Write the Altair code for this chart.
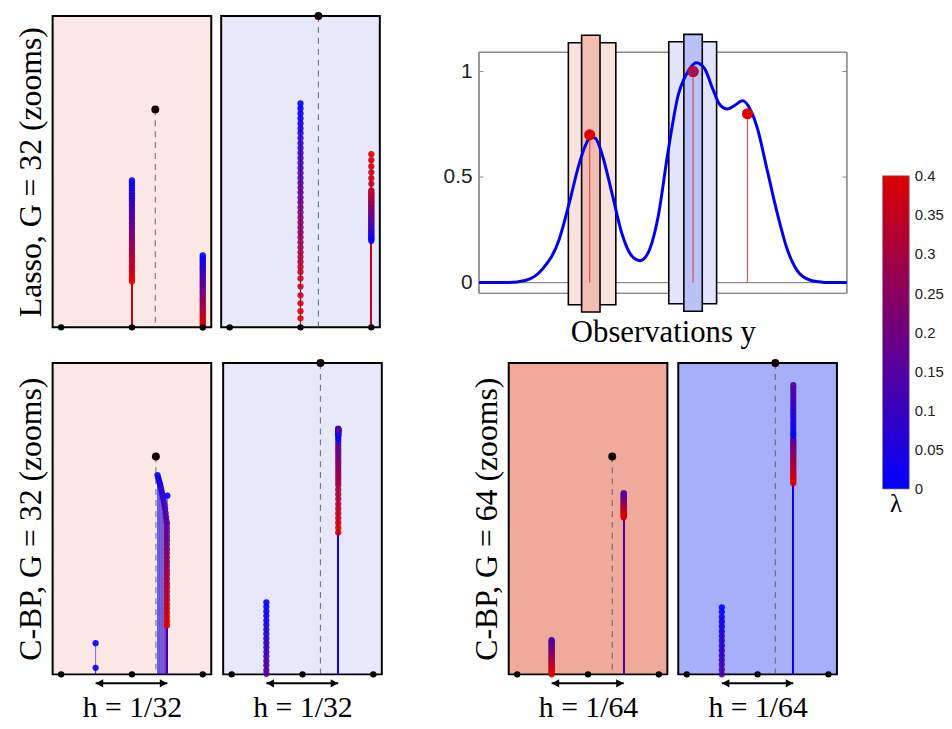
import altair as alt
import pandas as pd

SERIF = "Liberation Serif"
SANS = "Liberation Sans"

# ---------------- data ----------------
LAM = [0.00, 0.01, 0.02, 0.03, 0.04, 0.05, 0.06, 0.07, 0.08, 0.09,
       0.10, 0.11, 0.12, 0.13, 0.14, 0.15, 0.16, 0.17, 0.18, 0.19,
       0.20, 0.21, 0.22, 0.23, 0.24, 0.25, 0.26, 0.27, 0.28, 0.29,
       0.30, 0.31, 0.32, 0.33, 0.34, 0.35, 0.36, 0.37, 0.38, 0.39, 0.40]
COLORBAR_TICKS = [0, 0.05, 0.1, 0.15, 0.2, 0.25, 0.3, 0.35, 0.4]
GRID_NODES = [0, 1, 2]

# Lasso, G = 32 (pink zoom): amplitudes at grid nodes 1 and 2
LP_A1 = [0.472, 0.464, 0.456, 0.448, 0.440, 0.431, 0.423, 0.415, 0.407, 0.399,
         0.391, 0.383, 0.375, 0.366, 0.358, 0.350, 0.342, 0.334, 0.326, 0.318,
         0.310, 0.301, 0.293, 0.285, 0.277, 0.269, 0.261, 0.253, 0.245, 0.236,
         0.228, 0.220, 0.212, 0.204, 0.196, 0.188, 0.180, 0.171, 0.163, 0.155, 0.147]
LP_A2 = [0.231, 0.225, 0.219, 0.214, 0.208, 0.202, 0.196, 0.190, 0.185, 0.179,
         0.173, 0.167, 0.162, 0.156, 0.150, 0.144, 0.139, 0.133, 0.127, 0.121,
         0.116, 0.110, 0.104, 0.098, 0.092, 0.087, 0.081, 0.075, 0.069, 0.064,
         0.058, 0.052, 0.046, 0.040, 0.035, 0.029, 0.023, 0.017, 0.012, 0.006, 0.000]
# Lasso, G = 32 (blue zoom)
LB_A1 = [0.719, 0.703, 0.687, 0.671, 0.655, 0.639, 0.624, 0.608, 0.592, 0.576,
         0.560, 0.544, 0.528, 0.512, 0.496, 0.480, 0.464, 0.448, 0.433, 0.417,
         0.401, 0.385, 0.369, 0.353, 0.337, 0.321, 0.305, 0.289, 0.273, 0.257,
         0.241, 0.226, 0.210, 0.194, 0.178, 0.157, 0.131, 0.103, 0.077, 0.052, 0.029]
LB_A2 = [0.278, 0.283, 0.288, 0.292, 0.297, 0.302, 0.307, 0.311, 0.316, 0.321,
         0.326, 0.330, 0.335, 0.340, 0.345, 0.349, 0.354, 0.359, 0.364, 0.368,
         0.373, 0.378, 0.383, 0.387, 0.392, 0.397, 0.402, 0.406, 0.411, 0.416,
         0.421, 0.426, 0.430, 0.435, 0.440, 0.461, 0.479, 0.498, 0.517, 0.537, 0.556]

# C-BP, G = 32 (pink zoom)
CP_SMALL_X = 0.487
CP_SMALL_A = [0.100, 0.021]
CP_MAIN_X = [1.500, 1.361, 1.370, 1.380, 1.390, 1.400, 1.410, 1.420, 1.430, 1.440,
             1.450, 1.460, 1.468, 1.476, 1.482, 1.487]
CP_MAIN_A = [0.574, 0.640, 0.632, 0.624, 0.616, 0.608, 0.598, 0.588, 0.577, 0.566,
             0.555, 0.543, 0.531, 0.518, 0.505, 0.493]
CP_VERT_X = 1.494
CP_VERT_A = [0.484, 0.470, 0.457, 0.443, 0.430, 0.416, 0.402, 0.389, 0.375, 0.361,
             0.348, 0.334, 0.321, 0.307, 0.293, 0.280, 0.266, 0.252, 0.239, 0.225,
             0.212, 0.198, 0.184, 0.171, 0.157]
# C-BP, G = 32 (blue zoom)
CB_X1 = 0.490
CB_A1 = [0.231, 0.217, 0.202, 0.188, 0.173, 0.159, 0.144, 0.130, 0.115, 0.101,
         0.087, 0.072, 0.058, 0.043, 0.029, 0.014, 0.002]
CB_X2 = 1.505
CB_A2 = [0.755, 0.764, 0.768, 0.771, 0.774, 0.776, 0.778, 0.780, 0.782, 0.783,
         0.784, 0.785, 0.786, 0.787, 0.788, 0.789,
         0.745, 0.735, 0.725, 0.716, 0.706, 0.696, 0.686, 0.677, 0.667, 0.657,
         0.647, 0.637, 0.628, 0.618, 0.608, 0.593, 0.578, 0.563, 0.547, 0.532,
         0.517, 0.502, 0.487, 0.471, 0.456]
# C-BP, G = 64 (pink zoom), lambda from 0.12 upward
GP_X1 = 0.486
GP_A1 = [0.110, 0.106, 0.102, 0.098, 0.094, 0.090, 0.086, 0.083, 0.079, 0.075,
         0.071, 0.067, 0.063, 0.059, 0.055, 0.051, 0.047, 0.043, 0.039, 0.035,
         0.031, 0.028, 0.024, 0.020, 0.016, 0.012, 0.008, 0.004, 0.000]
GP_X2 = 1.504
GP_A2 = [0.582, 0.579, 0.576, 0.574, 0.571, 0.568, 0.565, 0.562, 0.560, 0.557,
         0.554, 0.551, 0.549, 0.546, 0.543, 0.540, 0.537, 0.535, 0.532, 0.529,
         0.526, 0.524, 0.521, 0.518, 0.515, 0.512, 0.510, 0.507, 0.504]
# C-BP, G = 64 (blue zoom)
GB_X1 = 0.495
GB_A1 = [0.215, 0.200, 0.184, 0.169, 0.154, 0.138, 0.123, 0.108, 0.092, 0.077,
         0.061, 0.046, 0.031, 0.015, 0.000]
GB_X2 = 1.504
GB_A2 = [0.766, 0.775, 0.786, 0.797, 0.808, 0.820, 0.831, 0.842, 0.853, 0.864,
         0.875, 0.886, 0.897, 0.908, 0.919, 0.929,
         0.755, 0.749, 0.743, 0.737, 0.731, 0.726, 0.720, 0.714, 0.708, 0.702,
         0.696, 0.690, 0.684, 0.678, 0.673, 0.667, 0.661, 0.655, 0.649, 0.643,
         0.637, 0.631, 0.626, 0.620, 0.614]

PANEL_IDS = ["lasso_pink", "lasso_blue", "cbp32_pink", "cbp32_blue", "cbp64_pink", "cbp64_blue"]
TRUE_X = [1.330, 1.253, 1.338, 1.254, 1.342, 1.250]
TRUE_AMP = [0.70, 1.00, 0.70, 1.00, 0.70, 1.00]
ARROW_FROM = [None, None, 0.487, 0.490, 0.486, 0.495]
ARROW_TO = [None, None, 1.500, 1.505, 1.504, 1.504]

# Observation signal
CURVE_X = [0.000, 0.080, 0.128, 0.173, 0.218, 0.245, 0.272, 0.290, 0.303, 0.317,
           0.335, 0.362, 0.388, 0.415, 0.438, 0.460, 0.487, 0.514, 0.541, 0.568,
           0.591, 0.613, 0.636, 0.654, 0.676, 0.694, 0.717, 0.739, 0.757, 0.784,
           0.811, 0.838, 0.865, 0.901, 0.925, 0.946, 1.000]
CURVE_Y = [0.000, 0.000, 0.011, 0.065, 0.204, 0.374, 0.560, 0.652, 0.691, 0.683,
           0.606, 0.420, 0.235, 0.127, 0.104, 0.142, 0.312, 0.621, 0.884, 1.000,
           1.042, 1.015, 0.915, 0.845, 0.822, 0.838, 0.861, 0.815, 0.730, 0.529,
           0.328, 0.158, 0.057, 0.011, 0.004, 0.000, 0.000]
SPIKE_X = [0.301, 0.582, 0.730]
SPIKE_AMP = [0.70, 1.00, 0.80]
BOX_NAMES = ["pink outer", "pink inner", "blue outer", "blue inner"]
BOX_X0 = [0.243, 0.279, 0.516, 0.557]
BOX_X1 = [0.372, 0.329, 0.646, 0.607]
BOX_Y0 = [-0.105, -0.139, -0.100, -0.136]
BOX_Y1 = [1.136, 1.172, 1.141, 1.176]
Y_TICKS = [0, 0.5, 1]
FRAME_Y = [-0.051, 1.091]

# ---------------- styles ----------------
PINK_LIGHT = "#FBE8E4"
BLUE_LIGHT = "#E7E9FB"
PINK_DARK = "#F0AA9C"
BLUE_DARK = "#A7AEFA"
BOX_FILLS = ["#F9E3DE", "#F2BEB3", "#E2E5FB", "#BAC1F7"]
LAM_BLUE = "#0000FF"
LAM_RED = "#DE0000"
H = 314
W = 160
X_DOMAIN = [-0.12, 2.12]
CB_H = 666
CB_DOMAIN = [-0.2392, 0.6038]


def path(panel, x, lam, amp):
    xs = x if isinstance(x, list) else [x] * len(amp)
    return [{"panel": panel, "x": xi, "lam": l, "a": a} for xi, l, a in zip(xs, lam, amp)]


rows = []
rows += path("lasso_pink", 1, LAM, LP_A1) + path("lasso_pink", 2, LAM, LP_A2)
rows += path("lasso_blue", 1, LAM, LB_A1) + path("lasso_blue", 2, LAM, LB_A2)
rows += path("cbp32_pink", CP_SMALL_X, LAM[0:2], CP_SMALL_A)
rows += path("cbp32_pink", CP_MAIN_X, LAM[0:16], CP_MAIN_A)
rows += path("cbp32_pink", CP_VERT_X, LAM[16:41], CP_VERT_A)
rows += path("cbp32_blue", CB_X1, LAM[0:17], CB_A1) + path("cbp32_blue", CB_X2, LAM, CB_A2)
rows += path("cbp64_pink", GP_X1, LAM[12:41], GP_A1) + path("cbp64_pink", GP_X2, LAM[12:41], GP_A2)
rows += path("cbp64_blue", GB_X1, LAM[0:15], GB_A1) + path("cbp64_blue", GB_X2, LAM, GB_A2)
df = pd.DataFrame(rows)

COLOR = alt.Color("lam:Q", scale=alt.Scale(domain=[0, 0.4], range=[LAM_BLUE, LAM_RED],
                                           interpolate="rgb"), legend=None)


def serif_axis(title, pad, size):
    return alt.Axis(labels=False, ticks=False, domain=False, grid=False, title=title,
                    titleFont=SERIF, titleFontSize=size, titleFontWeight="normal",
                    titleColor="black", titlePadding=pad)


def panel_chart(i, bg, ytitle=None, xtitle=None):
    pid = PANEL_IDS[i]
    pts = df[df.panel == pid].copy()
    if pid.startswith("lasso"):
        dot_pts = pts.sort_values("lam", kind="stable")
        stem_pts = dot_pts
    else:
        # drawing order: growing lambda, unregularised solution (lambda = 0) on top
        pts["z"] = pts["lam"].where(pts["lam"] > 0, 1.0)
        dot_pts = pts.sort_values("z", kind="stable")
        stem_pts = pts.sort_values("lam", ascending=False, kind="stable")
    xs = alt.Scale(domain=X_DOMAIN, nice=False, zero=False)
    ys = alt.Scale(domain=[0, 1], nice=False, zero=False)
    xaxis = serif_axis(xtitle, 18, 30) if xtitle else None
    yaxis = serif_axis(ytitle, 5, 32) if ytitle else None

    def X(f):
        return alt.X(f, scale=xs, axis=xaxis)

    def Y(f):
        return alt.Y(f, scale=ys, axis=yaxis)

    def Y0():
        return alt.Y(datum=0, scale=ys, axis=yaxis)

    true_df = pd.DataFrame({"x": [TRUE_X[i]], "a": [TRUE_AMP[i]]})
    grid_df = pd.DataFrame({"x": GRID_NODES, "a": [0 for _ in GRID_NODES]})

    dashed = alt.Chart(true_df).mark_rule(color="#555", strokeDash=[6, 5], strokeWidth=1.2,
                                          opacity=0.75).encode(
        x=X("x:Q"), y=Y("a:Q"), y2=alt.datum(0))
    stems = alt.Chart(stem_pts).mark_rule(strokeWidth=1, opacity=0.55).encode(
        x=X("x:Q"), y=Y("a:Q"), y2=alt.datum(0), color=COLOR)
    dots = alt.Chart(dot_pts).mark_circle(size=40, opacity=0.9).encode(
        x=X("x:Q"), y=Y("a:Q"), color=COLOR)
    grid = alt.Chart(grid_df).mark_circle(size=42, color="black", opacity=1).encode(
        x=X("x:Q"), y=Y("a:Q"))
    top = alt.Chart(true_df).mark_circle(size=64, color="#120404", opacity=1).encode(
        x=X("x:Q"), y=Y("a:Q"))
    layers = [dashed, stems, dots, grid, top]
    if ARROW_FROM[i] is not None:
        arr = pd.DataFrame({"x": [ARROW_FROM[i]], "x2": [ARROW_TO[i]]})
        layers.append(alt.Chart(arr).mark_rule(color="black", strokeWidth=2, yOffset=9).encode(
            x=X("x:Q"), x2="x2:Q", y=Y0()))
        layers.append(alt.Chart(arr).mark_point(shape="triangle-left", filled=True, size=70,
                                                color="black", opacity=1, yOffset=9,
                                                xOffset=4).encode(x=X("x:Q"), y=Y0()))
        layers.append(alt.Chart(arr).mark_point(shape="triangle-right", filled=True, size=70,
                                                color="black", opacity=1, yOffset=9,
                                                xOffset=-4).encode(x=X("x2:Q"), y=Y0()))
    return alt.layer(*layers).properties(
        width=W, height=H, view=alt.ViewBackground(fill=bg, stroke="black", strokeWidth=2))


# ---------------- observation plot ----------------
LX = alt.Scale(domain=[0, 1], nice=False, zero=False)
LY = alt.Scale(domain=[-0.212, 1.263], nice=False, zero=False)
curve_df = pd.DataFrame({"x": CURVE_X, "y": CURVE_Y})
spike_df = pd.DataFrame({"x": SPIKE_X, "y": SPIKE_AMP, "i": list(range(len(SPIKE_X)))})
box_df = pd.DataFrame({"box": BOX_NAMES, "x0": BOX_X0, "x1": BOX_X1, "y0": BOX_Y0, "y1": BOX_Y1})
tick_df = pd.DataFrame({"y": Y_TICKS})

frame = alt.Chart(tick_df).mark_rect(filled=False, stroke="#8a8a8a", strokeWidth=1).encode(
    x=alt.X(datum=0, scale=LX, axis=alt.Axis(labels=False, ticks=False, domain=False, grid=False,
                                             title="Observations y", titleFont=SERIF,
                                             titleFontSize=31, titleFontWeight="normal",
                                             titleColor="black", titlePadding=-10)),
    x2=alt.datum(1),
    y=alt.Y(datum=FRAME_Y[0], scale=LY, axis=alt.Axis(values=Y_TICKS, format="~g", ticks=False,
                                                      domain=False, grid=False, labelFont=SANS,
                                                      labelFontSize=21, labelColor="#222",
                                                      labelPadding=7, title=None)),
    y2=alt.datum(FRAME_Y[1]),
)
baseline = alt.Chart(tick_df).mark_rule(color="#8a8a8a", strokeWidth=1).encode(
    y=alt.Y(datum=0, scale=LY))
lticks = alt.Chart(tick_df).mark_rule(color="#8a8a8a", strokeWidth=1).encode(
    x=alt.datum(0), x2=alt.datum(0.012), y=alt.Y("y:Q", scale=LY))
rticks = alt.Chart(tick_df).mark_rule(color="#8a8a8a", strokeWidth=1).encode(
    x=alt.datum(0.988), x2=alt.datum(1), y=alt.Y("y:Q", scale=LY))
boxes = alt.Chart(box_df).mark_rect(stroke="black", strokeWidth=1.6).encode(
    x=alt.X("x0:Q", scale=LX), x2="x1:Q", y=alt.Y("y0:Q", scale=LY), y2="y1:Q",
    fill=alt.Fill("box:N", scale=alt.Scale(domain=BOX_NAMES, range=BOX_FILLS), legend=None))
curve = alt.Chart(curve_df).mark_line(color="#0000EE", strokeWidth=3, interpolate="monotone").encode(
    x=alt.X("x:Q", scale=LX), y=alt.Y("y:Q", scale=LY))
sstems = alt.Chart(spike_df).mark_rule(color="#E53535", strokeWidth=1.2, opacity=0.85).encode(
    x=alt.X("x:Q", scale=LX), y=alt.Y("y:Q", scale=LY), y2=alt.datum(0))
sdots = alt.Chart(spike_df).mark_circle(color="#E00000", size=125, opacity=1).encode(
    x=alt.X("x:Q", scale=LX), y=alt.Y("y:Q", scale=LY))
sdot_mid = alt.Chart(spike_df).transform_filter("datum.i == 1").mark_circle(
    color="#A5124C", size=125, opacity=1).encode(x=alt.X("x:Q", scale=LX), y=alt.Y("y:Q", scale=LY))

obs = alt.layer(frame, baseline, lticks, rticks, boxes, curve, sstems, sdots, sdot_mid).properties(
    width=371, height=H, view=alt.ViewBackground(stroke="transparent"))

# ---------------- colour bar ----------------
CBY = alt.Scale(domain=CB_DOMAIN, nice=False, zero=False)
cb_df = pd.DataFrame({"lo": [COLORBAR_TICKS[0]], "hi": [COLORBAR_TICKS[-1]]})
bar = alt.Chart(cb_df).mark_rect(
    fill=alt.LinearGradient(gradient="linear",
                            stops=[alt.GradientStop(color=LAM_BLUE, offset=0),
                                   alt.GradientStop(color=LAM_RED, offset=1)],
                            x1=0, x2=0, y1=1, y2=0),
    stroke="#888", strokeWidth=0.7,
).encode(
    y=alt.Y("lo:Q", scale=CBY, axis=alt.Axis(orient="right", values=COLORBAR_TICKS, format=".2~f",
                                             ticks=False, domain=False, grid=False, labelFont=SANS,
                                             labelFontSize=15, labelColor="#222", labelPadding=5,
                                             title=None)),
    y2="hi:Q",
)
lam_label = alt.Chart(cb_df).mark_text(text="λ", font=SERIF, fontSize=25, baseline="top",
                                       color="black", yOffset=3).encode(
    y=alt.Y("lo:Q", scale=CBY))
colorbar = alt.layer(bar, lam_label).properties(
    width=27, height=CB_H, view=alt.ViewBackground(stroke="transparent"))

p0 = panel_chart(0, PINK_LIGHT, ytitle="Lasso, G = 32 (zooms)")
p1 = panel_chart(1, BLUE_LIGHT)
p2 = panel_chart(2, PINK_LIGHT, ytitle="C-BP, G = 32 (zooms)", xtitle="h = 1/32")
p3 = panel_chart(3, BLUE_LIGHT, xtitle="h = 1/32")
p4 = panel_chart(4, PINK_DARK, ytitle="C-BP, G = 64 (zooms)", xtitle="h = 1/64")
p5 = panel_chart(5, BLUE_DARK, xtitle="h = 1/64")

row1 = alt.hconcat(alt.hconcat(p0, p1, spacing=8), obs, spacing=62)
row2 = alt.hconcat(alt.hconcat(p2, p3, spacing=10), alt.hconcat(p4, p5, spacing=9), spacing=87)
main = alt.vconcat(row1, row2, spacing=10)
chart = alt.hconcat(main, colorbar, spacing=28).properties(
    padding={"left": 5, "top": 0, "right": 0, "bottom": 0}
).configure(background="white")

chart.save("out.html", embed_options={"renderer": "svg", "actions": False})
